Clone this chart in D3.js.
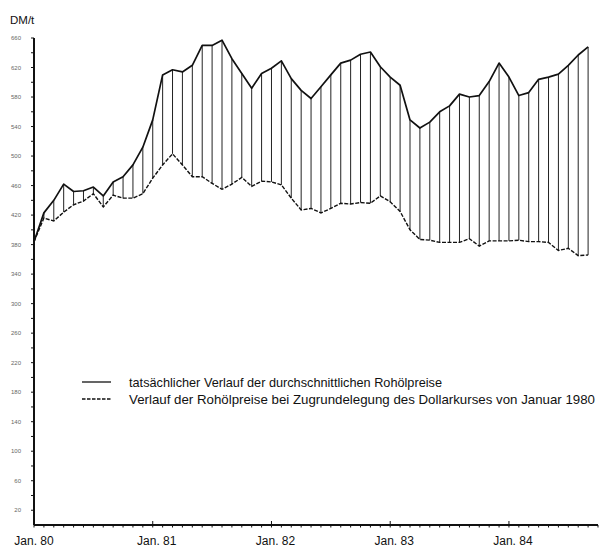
<!DOCTYPE html>
<html>
<head>
<meta charset="utf-8">
<script src="https://cdn.jsdelivr.net/npm/d3@7"></script>
<style>
  body { margin: 0; background: #fff; }
  text { font-family: "Liberation Sans", Arial, sans-serif; }
</style>
</head>
<body>
<div id="chart"></div>
<script>
// monthly values, Jan. 80 .. Sep. 84 (DM/t)
const actualPrice = [
  384, 423, 440, 462, 452, 453, 458, 446, 465, 472, 488, 512,
  549, 610, 617, 614, 623, 650, 650, 657, 632, 612, 592, 612,
  619, 629, 605, 589, 578, 594, 610, 626, 630, 638, 641, 621,
  607, 596, 549, 538, 546, 560, 568, 584, 580, 582, 601, 626,
  607, 582, 586, 604, 607, 611, 623, 637, 648
];
const priceAtDollar1980 = [
  384, 416, 412, 424, 434, 439, 449, 431, 447, 443, 443, 449,
  470, 488, 503, 488, 472, 472, 463, 455, 462, 471, 459, 466,
  465, 461, 443, 427, 429, 423, 429, 436, 435, 437, 436, 446,
  438, 425, 400, 387, 386, 383, 383, 383, 388, 378, 385, 385,
  385, 386, 384, 384, 383, 372, 375, 365, 366
];
const yearLabels = ["Jan. 80", "Jan. 81", "Jan. 82", "Jan. 83", "Jan. 84"];
const yTickLabels = [20, 60, 100, 140, 180, 220, 260, 300, 340, 380, 420, 460, 500, 540, 580, 620, 660];
const legendLabels = [
  "tatsächlicher Verlauf der durchschnittlichen Rohölpreise",
  "Verlauf der Rohölpreise bei Zugrundelegung des Dollarkurses von Januar 1980"
];

const width = 601, height = 549;
const svg = d3.select("#chart").append("svg")
  .attr("width", width)
  .attr("height", height);

//Scales
const x = d3.scaleLinear().domain([0, 57]).range([34, 598]);
const y = d3.scaleLinear().domain([0, 660]).range([525, 38]);

const months = d3.range(actualPrice.length);

//Hatching between the two curves
svg.append("g").attr("class", "hatch")
  .selectAll("line")
  .data(months.filter(i => actualPrice[i] - priceAtDollar1980[i] > 3))
  .enter().append("line")
  .attr("x1", i => x(i)).attr("x2", i => x(i))
  .attr("y1", i => y(actualPrice[i]))
  .attr("y2", i => y(priceAtDollar1980[i]))
  .style("stroke", "#222")
  .style("stroke-width", 1);

const line = d3.line().x((d, i) => x(i)).y(d => y(d));

svg.append("path")
  .datum(priceAtDollar1980)
  .attr("d", line)
  .style("fill", "none")
  .style("stroke", "#111")
  .style("stroke-width", 1.4)
  .style("stroke-dasharray", "4,1.5");

svg.append("path")
  .datum(actualPrice)
  .attr("d", line)
  .style("fill", "none")
  .style("stroke", "#111")
  .style("stroke-width", 1.7)
  .style("stroke-linejoin", "round");

//Y axis
const yAxis = svg.append("g").attr("class", "yAxis");
yAxis.append("line")
  .attr("x1", x(0)).attr("x2", x(0))
  .attr("y1", y(660)).attr("y2", y(0))
  .style("stroke", "#111").style("stroke-width", 2);
yAxis.selectAll(".ytick")
  .data(d3.range(20, 661, 20))
  .enter().append("line")
  .attr("x1", x(0) - 3).attr("x2", x(0))
  .attr("y1", d => y(d)).attr("y2", d => y(d))
  .style("stroke", "#111").style("stroke-width", 1);
yAxis.selectAll(".ylabel")
  .data(yTickLabels)
  .enter().append("text")
  .attr("x", 21)
  .attr("y", d => y(d))
  .attr("dy", "0.35em")
  .attr("text-anchor", "end")
  .style("font-size", "6px")
  .style("fill", "#666")
  .text(d => d);

svg.append("text")
  .attr("x", 10).attr("y", 24)
  .style("font-size", "11.5px")
  .style("fill", "#111")
  .text("DM/t");

//X axis
const xAxis = svg.append("g").attr("class", "xAxis");
xAxis.append("line")
  .attr("x1", x(0)).attr("x2", x(57))
  .attr("y1", y(0)).attr("y2", y(0))
  .style("stroke", "#111").style("stroke-width", 2);
xAxis.selectAll(".xtick")
  .data(d3.range(0, 58))
  .enter().append("line")
  .attr("x1", d => x(d)).attr("x2", d => x(d))
  .attr("y1", d => d % 12 === 0 ? y(0) - 4 : y(0))
  .attr("y2", d => y(0) + 2.5)
  .style("stroke", "#111").style("stroke-width", 1);
xAxis.selectAll(".xlabel")
  .data(yearLabels)
  .enter().append("text")
  .attr("x", (d, i) => x(i * 12) + (i === 0 ? 0 : 4))
  .attr("y", 545)
  .attr("text-anchor", "middle")
  .style("font-size", "12px")
  .style("fill", "#111")
  .text(d => d);

//Legend
const legendWidths = [313, 466];
const legend = svg.append("g").attr("class", "legend");
legend.selectAll(".legendLine")
  .data(legendLabels)
  .enter().append("line")
  .attr("x1", 82).attr("x2", 111)
  .attr("y1", (d, i) => 382 + i * 17)
  .attr("y2", (d, i) => 382 + i * 17)
  .style("stroke", "#111")
  .style("stroke-width", 1.3)
  .style("stroke-dasharray", (d, i) => i === 0 ? null : "3.5,1.5");
legend.selectAll(".legendText")
  .data(legendLabels)
  .enter().append("text")
  .attr("x", 129)
  .attr("y", (d, i) => 382 + i * 17)
  .attr("dy", "0.35em")
  .attr("textLength", (d, i) => legendWidths[i])
  .attr("lengthAdjust", "spacingAndGlyphs")
  .style("font-size", "13px")
  .style("fill", "#111")
  .text(d => d);
</script>
</body>
</html>
